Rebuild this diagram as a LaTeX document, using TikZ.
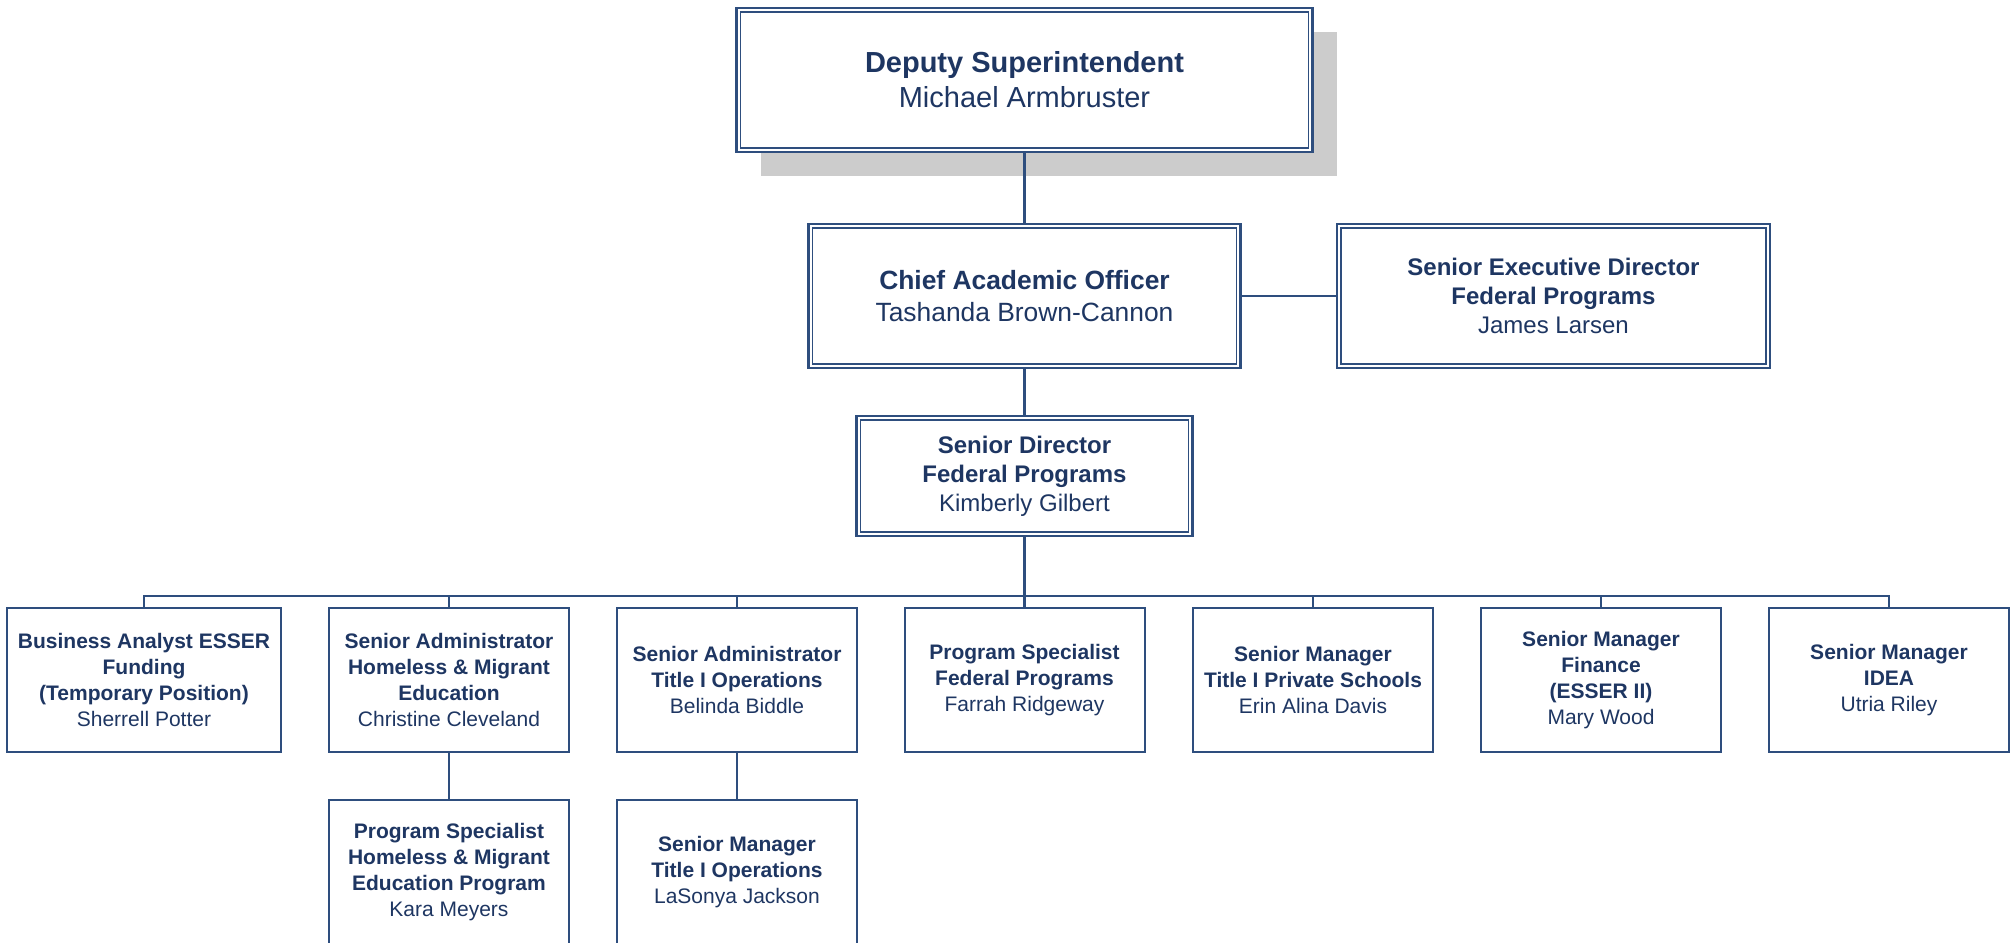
\documentclass[tikz,border=0pt]{standalone}
\usepackage{fontspec}
\setmainfont{Liberation Sans}
\usetikzlibrary{shadows}
\definecolor{lc}{RGB}{46,78,126}
\definecolor{tc}{RGB}{30,54,98}
\definecolor{shc}{RGB}{204,204,204}
\newcommand{\myfontTop}{\fontsize{14.5}{17.5}\selectfont}
\newcommand{\myfontCao}{\fontsize{13.2}{16}\selectfont}
\newcommand{\myfontMid}{\fontsize{12}{14.6}\selectfont}
\newcommand{\myfontLow}{\fontsize{10.5}{13}\selectfont}
\tikzset{
  box/.style={draw=lc, line width=1pt, fill=white, text=tc, align=center, inner sep=0pt},
  dbox/.style={box, line width=1.3pt},
  innerline/.style={draw=lc, line width=0.75pt},
  conn/.style={draw=lc, line width=1.05pt},
  lowbox/.style={box, font=\myfontLow, minimum width=120pt, minimum height=72pt},
}
\begin{document}
\begin{tikzpicture}[x=0.5pt, y=-0.5pt]
\fill[white] (0,0) rectangle (2015,943);
\useasboundingbox (0,0) rectangle (2015,943);

% top
\node[dbox, font=\myfontTop, minimum width=288pt, minimum height=72pt,
      drop shadow={shadow xshift=12pt, shadow yshift=-12pt, fill=shc, opacity=1}]
  (dep) at (1024.5,80) {\textbf{Deputy Superintendent}\\Michael Armbruster};
\node[dbox, font=\myfontCao, minimum width=216pt, minimum height=72pt]
  (cao) at (1024.5,296) {\textbf{Chief Academic Officer}\\Tashanda Brown-Cannon};
\node[dbox, font=\myfontMid, minimum width=216.5pt, minimum height=72pt]
  (sed) at (1553.5,296) {\textbf{Senior Executive Director}\\\textbf{Federal Programs}\\James Larsen};
\node[dbox, font=\myfontMid, minimum width=168pt, minimum height=60pt]
  (sdir) at (1024.5,476) {\textbf{Senior Director}\\\textbf{Federal Programs}\\Kimberly Gilbert};

\foreach \n in {dep,cao,sed,sdir}
  \draw[innerline] ([shift={(5.5,5.5)}]\n.north west) rectangle ([shift={(-5.5,-5.5)}]\n.south east);

% bottom row
\node[lowbox, minimum width=137pt] (b1) at (144,680)
  {\textbf{Business Analyst ESSER}\\\textbf{Funding}\\\textbf{(Temporary Position)}\\Sherrell Potter};
\node[lowbox] (b2) at (449,680)
  {\textbf{Senior Administrator}\\\textbf{Homeless \& Migrant}\\\textbf{Education}\\Christine Cleveland};
\node[lowbox] (b3) at (737,680)
  {\textbf{Senior Administrator}\\\textbf{Title I Operations}\\Belinda Biddle};
\node[lowbox] (b4) at (1024.5,680)
  {\textbf{Program Specialist}\\\textbf{Federal Programs}\\Farrah Ridgeway};
\node[lowbox] (b5) at (1313,680)
  {\textbf{Senior Manager}\\\textbf{Title I Private Schools}\\Erin Alina Davis};
\node[lowbox] (b6) at (1601,680)
  {\textbf{Senior Manager}\\\textbf{Finance}\\\textbf{(ESSER II)}\\Mary Wood};
\node[lowbox] (b7) at (1889,680)
  {\textbf{Senior Manager}\\\textbf{IDEA}\\Utria Riley};

\node[lowbox] (b2b) at (449,872)
  {\textbf{Program Specialist}\\\textbf{Homeless \& Migrant}\\\textbf{Education Program}\\Kara Meyers};
\node[lowbox] (b3b) at (737,872)
  {\textbf{Senior Manager}\\\textbf{Title I Operations}\\LaSonya Jackson};

% connectors
\coordinate (bus) at (0,596);
\draw[conn] (dep.south) -- (cao.north);
\draw[conn] (cao.east) -- (sed.west);
\draw[conn] (cao.south) -- (sdir.north);
\draw[conn] (sdir.south) -- (sdir.south |- bus);
\draw[conn] (b1.north) -- (b1.north |- bus) -- (b7.north |- bus) -- (b7.north);
\foreach \n in {b2,b3,b4,b5,b6}
  \draw[conn] (\n.north) -- (\n.north |- bus);
\draw[conn] (b2.south) -- (b2b.north);
\draw[conn] (b3.south) -- (b3b.north);
\end{tikzpicture}
\end{document}
